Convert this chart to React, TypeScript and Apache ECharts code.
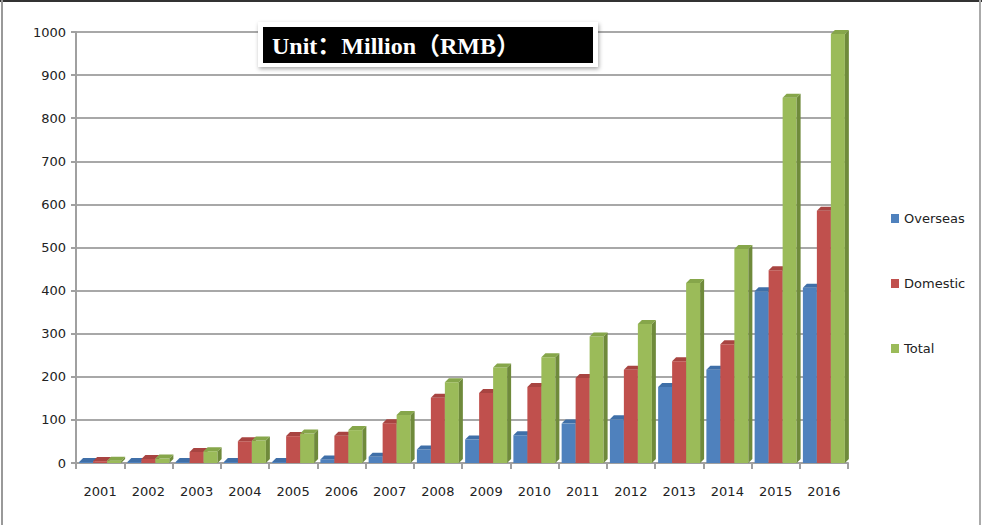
import React, { useEffect, useRef } from 'react';
import * as echarts from 'echarts';

const years = ['2001', '2002', '2003', '2004', '2005', '2006', '2007', '2008', '2009', '2010', '2011', '2012', '2013', '2014', '2015', '2016'];
const overseas = [1, 1, 2, 2, 6, 13, 19, 36, 59, 69, 96, 106, 181, 221, 403, 411];
const domestic = [9, 14, 30, 55, 67, 68, 97, 156, 167, 181, 202, 221, 241, 280, 452, 590];
const total = [10, 15, 32, 57, 73, 81, 116, 192, 226, 250, 298, 327, 422, 501, 852, 1000];
const seriesNames = ['Overseas', 'Domestic', 'Total'];
const yTicks = { min: 0, max: 1000, interval: 100 };
const unitTitle = 'Unit：Million（RMB）';

const palette = [
  { front: '#4F81BD', side: '#38608F', top: '#3F6FA8' },
  { front: '#C0504D', side: '#8E3A38', top: '#A84441' },
  { front: '#9BBB59', side: '#6F8A3B', top: '#86A64A' },
];

const D = 4;

function make3d(k: number) {
  const c = palette[k];
  return (params: any, api: any) => {
    const idx = api.value(0);
    const val = api.value(1);
    const p = api.coord([idx, val]);
    const b = api.coord([idx, 0]);
    const cw = api.size([1, 0])[0];
    const bw = cw * 0.29;
    const left = b[0] - cw / 2 + cw * 0.065 + k * bw;
    const right = left + bw;
    const baseY = b[1];
    const topY = Math.min(baseY - 1, p[1] + D / 2);
    return {
      type: 'group',
      children: [
        { type: 'rect', shape: { x: left, y: topY, width: bw, height: baseY - topY }, style: { fill: c.front } },
        { type: 'polygon', shape: { points: [[right, topY], [right + D, topY - D], [right + D, baseY - D], [right, baseY]] }, style: { fill: c.side } },
        { type: 'polygon', shape: { points: [[left, topY], [left + D, topY - D], [right + D, topY - D], [right, topY]] }, style: { fill: c.top } },
      ],
    };
  };
}

export default function App() {
  const ref = useRef<HTMLDivElement>(null);
  useEffect(() => {
    document.body.style.margin = '0';
    if (!ref.current) return;
    const chart = echarts.init(ref.current, null, { renderer: 'svg' });
    const lists = [overseas, domestic, total];
    chart.setOption({
      animation: false,
      backgroundColor: '#fff',
      textStyle: { fontFamily: 'DejaVu Sans' },
      grid: { left: 76, right: 134, top: 32, bottom: 62, containLabel: false },
      legend: {
        orient: 'vertical',
        left: 886,
        top: 207,
        icon: 'rect',
        itemWidth: 8,
        itemHeight: 9,
        itemGap: 52,
        data: seriesNames,
        textStyle: { fontSize: 13, color: '#222', fontFamily: 'DejaVu Sans' },
      },
      xAxis: {
        type: 'category',
        data: years,
        boundaryGap: true,
        axisLine: { lineStyle: { color: '#a0a0a0', width: 2 } },
        axisTick: { show: true, length: 6, lineStyle: { color: '#a0a0a0', width: 2 } },
        axisLabel: { fontSize: 13, color: '#222', margin: 22, fontFamily: 'DejaVu Sans' },
      },
      yAxis: {
        type: 'value',
        min: yTicks.min,
        max: yTicks.max,
        interval: yTicks.interval,
        axisLine: { show: true, lineStyle: { color: '#a0a0a0', width: 2 } },
        axisTick: { show: true, length: 5, lineStyle: { color: '#a0a0a0', width: 2 } },
        axisLabel: { fontSize: 13, color: '#222', margin: 10, fontFamily: 'DejaVu Sans', formatter: (v: number) => String(v) },
        splitLine: { show: true, lineStyle: { color: '#a8a8a8', width: 2 } },
      },
      series: seriesNames.map((name, k) => ({
        type: 'custom',
        name,
        renderItem: make3d(k),
        itemStyle: { color: palette[k].front },
        encode: { x: 0, y: 1 },
        data: lists[k].map((v, i) => [i, v]),
      })),
      graphic: [
        { type: 'rect', shape: { x: 0, y: 0, width: 982, height: 2 }, style: { fill: '#333' }, z: 100 },
        { type: 'rect', shape: { x: 1, y: 0, width: 2, height: 525 }, style: { fill: '#999' }, z: 100 },
        { type: 'rect', shape: { x: 979, y: 0, width: 2, height: 525 }, style: { fill: '#aaa' }, z: 100 },
        {
          type: 'rect',
          shape: { x: 258, y: 22, width: 340, height: 45 },
          style: { fill: '#fff', shadowBlur: 4, shadowColor: 'rgba(0,0,0,0.35)', shadowOffsetX: 1, shadowOffsetY: 2 },
          z: 100,
        },
        { type: 'rect', shape: { x: 263, y: 27, width: 330, height: 36 }, style: { fill: '#000' }, z: 101 },
        {
          type: 'text',
          x: 272,
          y: 46,
          z: 102,
          style: {
            text: unitTitle,
            fill: '#fff',
            fontSize: 24,
            fontWeight: 'bold',
            fontFamily: '"Liberation Serif", "Noto Sans CJK SC", serif',
            verticalAlign: 'middle',
            textVerticalAlign: 'middle',
          },
        },
      ],
    });
    return () => chart.dispose();
  }, []);
  return <div ref={ref} style={{ width: 982, height: 525 }} />;
}
